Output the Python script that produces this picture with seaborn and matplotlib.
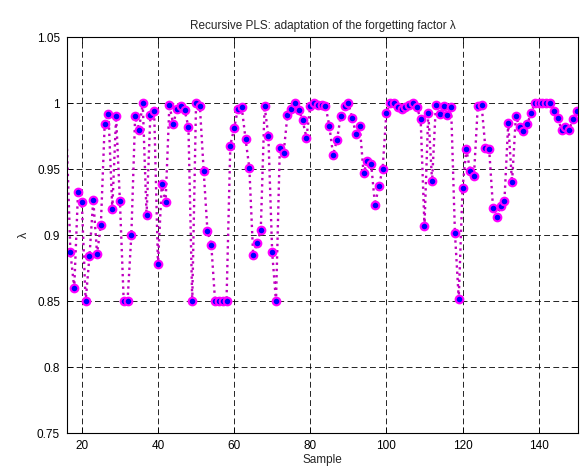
import matplotlib
matplotlib.use('Agg')
import matplotlib.pyplot as plt
import seaborn as sns
import pandas as pd

# forgetting factor per sample
samples = list(range(16, 151))
lam = [
    0.975, 0.887, 0.860, 0.933, 0.925, 0.850, 0.884, 0.927, 0.886, 0.908,  # 16-25
    0.984, 0.992, 0.920, 0.990, 0.926, 0.850, 0.850, 0.900, 0.990, 0.980,  # 26-35
    1.000, 0.915, 0.991, 0.994, 0.878, 0.939, 0.925, 0.999, 0.984, 0.996,  # 36-45
    0.998, 0.995, 0.982, 0.850, 1.000, 0.998, 0.949, 0.903, 0.893, 0.850,  # 46-55
    0.850, 0.850, 0.850, 0.968, 0.981, 0.996, 0.997, 0.973, 0.951, 0.885,  # 56-65
    0.894, 0.904, 0.998, 0.975, 0.887, 0.850, 0.966, 0.962, 0.991, 0.996,  # 66-75
    1.000, 0.995, 0.987, 0.974, 0.998, 1.000, 0.999, 0.999, 0.998, 0.983,  # 76-85
    0.961, 0.972, 0.990, 0.998, 1.000, 0.989, 0.977, 0.983, 0.947, 0.956,  # 86-95
    0.954, 0.923, 0.937, 0.950, 0.993, 1.000, 1.000, 0.997, 0.996, 0.997,  # 96-105
    0.999, 1.000, 0.997, 0.988, 0.907, 0.993, 0.941, 0.999, 0.992, 0.998,  # 106-115
    0.991, 0.997, 0.902, 0.852, 0.936, 0.965, 0.949, 0.945, 0.998, 0.999,  # 116-125
    0.966, 0.965, 0.921, 0.914, 0.922, 0.926, 0.985, 0.940, 0.990, 0.982,  # 126-135
    0.979, 0.984, 0.993, 1.000, 1.000, 1.000, 1.000, 1.000, 0.994, 0.989,  # 136-145
    0.980, 0.982, 0.980, 0.988, 0.994,                                     # 146-150
]

xticks = [20, 40, 60, 80, 100, 120, 140]
yticks = [0.75, 0.8, 0.85, 0.9, 0.95, 1.0, 1.05]
ytick_labels = ['0.75', '0.8', '0.85', '0.9', '0.95', '1', '1.05']

sns.set_style('white')
plt.rcParams['font.family'] = ['Liberation Sans', 'DejaVu Sans']

df = pd.DataFrame({'Sample': samples, 'lambda': lam})

fig = plt.figure(figsize=(5.82, 4.75), dpi=100)
ax = fig.add_axes([0.1151, 0.0878, 0.8785, 0.8337])

sns.lineplot(data=df, x='Sample', y='lambda', ax=ax, errorbar=None,
             color='#c000c0', linestyle=':', linewidth=1.7,
             marker='o', markersize=5.5, markerfacecolor='#0000ff',
             markeredgecolor='#ff00ff', markeredgewidth=1.5,
             markevery=list(range(1, len(samples))))

ax.set_xlim(16.1, 150.4)
ax.set_ylim(0.75, 1.05)
ax.set_xticks(xticks)
ax.set_yticks(yticks)
ax.set_yticklabels(ytick_labels)

ax.set_axisbelow(True)
ax.grid(True, color='k', linestyle=(0, (7, 4)), linewidth=0.6)
for sp in ax.spines.values():
    sp.set_color('k')
    sp.set_linewidth(0.8)
ax.tick_params(direction='in', bottom=True, left=True, top=True, right=True,
               length=4, width=0.6, labelsize=8.5, colors='k', pad=5)

ax.set_title('Recursive PLS: adaptation of the forgetting factor λ', fontsize=8.5, pad=6)
ax.set_xlabel('Sample', fontsize=8.5, labelpad=1)
ax.set_ylabel('λ', fontsize=9, labelpad=5)

fig.savefig('out.png', dpi=100)
